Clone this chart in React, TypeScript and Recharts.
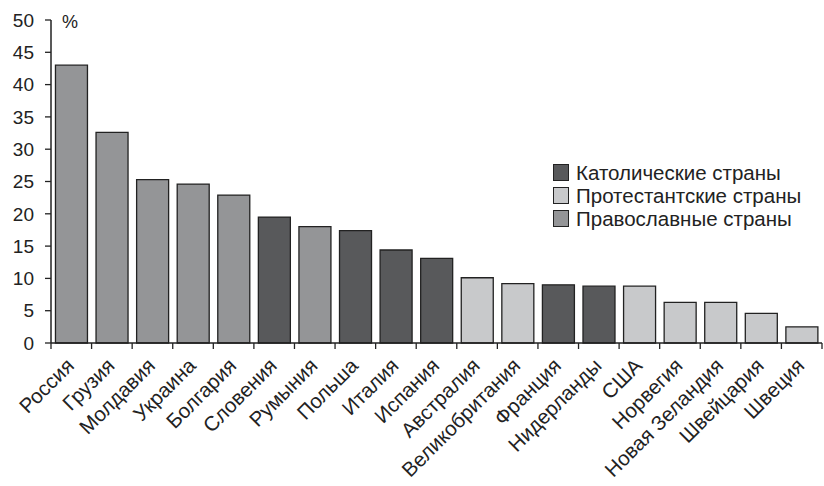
import React from 'react';
import { BarChart, Bar, XAxis, YAxis } from 'recharts';

const countries = ['Россия', 'Грузия', 'Молдавия', 'Украина', 'Болгария', 'Словения', 'Румыния', 'Польша', 'Италия', 'Испания', 'Австралия', 'Великобритания', 'Франция', 'Нидерланды', 'США', 'Норвегия', 'Новая Зеландия', 'Швейцария', 'Швеция'];
const values = [43.0, 32.6, 25.3, 24.6, 22.9, 19.5, 18.0, 17.4, 14.4, 13.1, 10.1, 9.2, 9.0, 8.8, 8.8, 6.3, 6.3, 4.6, 2.5];
const groups = ['o', 'o', 'o', 'o', 'o', 'c', 'o', 'c', 'c', 'c', 'p', 'p', 'c', 'c', 'p', 'p', 'p', 'p', 'p'];
const seriesKeys = ['c', 'p', 'o'];
const seriesNames = ['Католические страны', 'Протестантские страны', 'Православные страны'];
const seriesColors = ['#58595b', '#c8c9cb', '#949597'];
const yTicks = [0, 5, 10, 15, 20, 25, 30, 35, 40, 45, 50];

const data = countries.map((name, i) => {
  const row: Record<string, any> = { name };
  seriesKeys.forEach((k) => {
    row[k] = groups[i] === k ? values[i] : null;
  });
  return row;
});

const W = 824;
const H = 486;
const M = { top: 20, right: 2, left: 0, bottom: 0 };
const Y_W = 51;
const X_H = 143;
const BW = (W - M.left - M.right - Y_W) / countries.length;
const FONT = '"Liberation Sans", Arial, sans-serif';
const AX = '#222';

const XTick = (props: any) => {
  const { x, y, payload, index } = props;
  const ay = y - 6;
  const tx = x + 4;
  const ty = ay + 24;
  return (
    <g>
      <line x1={x - BW / 2} x2={x - BW / 2} y1={ay} y2={ay + 6} stroke={AX} strokeWidth={1.3} />
      {index === countries.length - 1 && (
        <line x1={x + BW / 2} x2={x + BW / 2} y1={ay} y2={ay + 6} stroke={AX} strokeWidth={1.3} />
      )}
      <text
        x={tx}
        y={ty}
        textAnchor="end"
        transform={`rotate(-45 ${tx} ${ty})`}
        fontFamily={FONT}
        fontSize={20.5}
        fill="#222"
      >
        {payload.value}
      </text>
    </g>
  );
};

const LegendBox = () => (
  <div
    style={{
      position: 'absolute',
      left: 553,
      top: 161,
      fontFamily: FONT,
      fontSize: 20.5,
      color: '#222',
      lineHeight: '23px',
    }}
  >
    {seriesNames.map((n, i) => (
      <div key={n} style={{ display: 'flex', alignItems: 'center', height: 23 }}>
        <span
          style={{
            display: 'inline-block',
            width: 14,
            height: 15,
            background: seriesColors[i],
            border: '1.3px solid #222',
            marginRight: 7,
          }}
        />
        <span>{n}</span>
      </div>
    ))}
  </div>
);

export default function App() {
  return (
    <div style={{ position: 'absolute', left: 0, top: 0, width: W, height: H, background: '#fff' }}>
      <BarChart width={W} height={H} data={data} margin={M} barCategoryGap="11%">
        <XAxis
          dataKey="name"
          height={X_H}
          interval={0}
          tickLine={false}
          tickSize={6}
          tickMargin={0}
          tick={<XTick />}
          axisLine={{ stroke: AX, strokeWidth: 1.5 }}
        />
        <YAxis
          width={Y_W}
          domain={[0, 50]}
          ticks={yTicks}
          interval={0}
          tickSize={6}
          tickMargin={11}
          tickLine={{ stroke: AX, strokeWidth: 1.3 }}
          axisLine={{ stroke: AX, strokeWidth: 1.5 }}
          tick={{ fontFamily: FONT, fontSize: 19, fill: '#222' }}
          label={{
            content: (p: any) => {
              const vb = p.viewBox || {};
              return (
                <text x={(vb.x || 0) + (vb.width || 0) + 11} y={(vb.y || 0) + 8} fontFamily={FONT} fontSize={18} fill="#222">
                  %
                </text>
              );
            },
          }}
        />
        {seriesKeys.map((k, i) => (
          <Bar
            key={k}
            dataKey={k}
            name={seriesNames[i]}
            stackId="a"
            fill={seriesColors[i]}
            stroke="#222"
            strokeWidth={1.3}
            isAnimationActive={false}
          />
        ))}
      </BarChart>
      <LegendBox />
    </div>
  );
}
